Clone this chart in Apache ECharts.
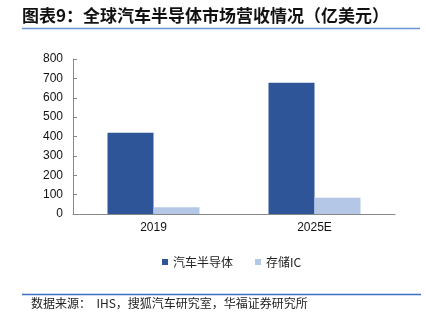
<!DOCTYPE html>
<html><head><meta charset="utf-8">
<script src="https://cdn.jsdelivr.net/npm/echarts@6/dist/echarts.min.js"></script>
<style>html,body{margin:0;padding:0;background:#fff}#c{width:426px;height:323px}</style>
</head><body><div id="c"></div>
<script>
const categories = ['2019', '2025E'];
const seriesNames = ['汽车半导体', '存储IC'];
const autoSemi = [420, 678];
const memoryIC = [35, 84];
const yTicks = [0, 100, 200, 300, 400, 500, 600, 700, 800];
const titleText = '图表9：全球汽车半导体市场营收情况（亿美元）';
const sourceText = '数据来源：  IHS，搜狐汽车研究室，华福证券研究所';

const chart = echarts.init(document.getElementById('c'), null, {renderer: 'canvas'});
chart.setOption({
  animation: false,
  backgroundColor: '#fff',
  graphic: [
    {type: 'text', left: 22, top: 7, style: {text: titleText, font: 'bold 17px "Noto Sans CJK SC"', fill: '#111'}},
    {type: 'line', shape: {x1: 22, y1: 28.5, x2: 420, y2: 28.5}, style: {stroke: '#6a96d4', lineWidth: 1.5}},
    {type: 'line', shape: {x1: 22, y1: 294.5, x2: 421, y2: 294.5}, style: {stroke: '#3b6fc2', lineWidth: 1.5}},
    {type: 'text', left: 31, top: 297, style: {text: sourceText, font: '12px "Noto Sans CJK SC"', fill: '#222'}}
  ],
  grid: {left: 73, right: 31, top: 59, bottom: 109, containLabel: false},
  legend: {
    data: seriesNames, left: 157, top: 251, icon: 'rect', itemWidth: 6, itemHeight: 6, itemGap: 22,
    textStyle: {fontSize: 12, color: '#222', fontFamily: '"Noto Sans CJK SC"'}
  },
  xAxis: {
    type: 'category', data: categories, boundaryGap: true,
    axisLine: {lineStyle: {color: '#888', width: 1}},
    axisTick: {inside: true, length: 4, lineStyle: {color: '#888'}},
    axisLabel: {fontSize: 12, color: '#111', fontFamily: 'Liberation Sans', margin: 8}
  },
  yAxis: {
    type: 'value', min: 0, max: 800, interval: 100,
    axisLine: {show: true, lineStyle: {color: '#888'}},
    axisTick: {show: true, inside: true, length: 4, lineStyle: {color: '#888'}},
    splitLine: {show: false},
    axisLabel: {fontSize: 12, color: '#111', fontFamily: 'Liberation Sans', margin: 10,
      formatter: v => yTicks.includes(v) ? String(v) : ''}
  },
  series: [
    {name: seriesNames[0], type: 'bar', data: autoSemi, barWidth: 46, barGap: '0%', itemStyle: {color: '#2e5597'}},
    {name: seriesNames[1], type: 'bar', data: memoryIC, barWidth: 46, itemStyle: {color: '#b4c7e7'}}
  ]
});
</script></body></html>
